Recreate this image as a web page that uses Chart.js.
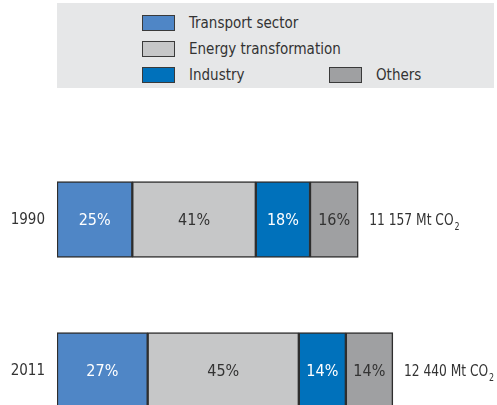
<!DOCTYPE html>
<html>
<head>
<meta charset="utf-8">
<script src="https://cdn.jsdelivr.net/npm/chart.js@4"></script>
<style>
  html, body { margin: 0; padding: 0; background: #fff; overflow: hidden; width: 497px; height: 405px; }
  #wrap { position: relative; width: 497px; height: 450px; }
  #legend {
    position: absolute; left: 57px; top: 3px; width: 437px; height: 85px;
    background: #e6e7e8;
    font-family: "DejaVu Sans Condensed", "Liberation Sans Narrow", sans-serif;
    font-size: 15px; color: #333;
  }
  .item { position: absolute; display: flex; align-items: center; }
  .sw { width: 31px; height: 14px; border: 1px solid #3a3a3a; margin-right: 14px; }
</style>
</head>
<body>
<div id="wrap">
  <canvas id="chart" width="497" height="450"></canvas>
  <div id="legend"></div>
</div>
<script>
// 年と合計排出量
const years = ["1990", "2011"]
const totals = [11157, 12440]
const totalLabels = ["11 157 Mt CO", "12 440 Mt CO"]

// セクター別シェア (%)
const sectors = ["Transport sector", "Energy transformation", "Industry", "Others"]
const transportShare = [25, 27]
const energyShare = [41, 45]
const industryShare = [18, 14]
const othersShare = [16, 14]

const colors = ["#4f86c6", "#c6c7c8", "#0071bb", "#9fa0a2"]
const labelColors = ["#ffffff", "#333333", "#ffffff", "#333333"]
const shares = [transportShare, energyShare, industryShare, othersShare]

const FONT = '"DejaVu Sans Condensed", "Liberation Sans Narrow", sans-serif'

// 凡例 (HTML)
const legendPos = [[85, 11], [85, 37], [85, 63], [272, 63]]
const legendEl = document.getElementById("legend")
sectors.forEach((name, i) => {
  const d = document.createElement("div")
  d.className = "item"
  d.style.left = legendPos[i][0] + "px"
  d.style.top = legendPos[i][1] + "px"
  d.innerHTML = `<span class="sw" style="background:${colors[i]}"></span><span>${name}</span>`
  legendEl.appendChild(d)
})

// バー内ラベルと左右のテキストを描画
const textPlugin = {
  id: "texts",
  afterDatasetsDraw(chart) {
    const ctx = chart.ctx
    ctx.save()
    ctx.textBaseline = "middle"
    chart.data.datasets.forEach((ds, di) => {
      const meta = chart.getDatasetMeta(di)
      meta.data.forEach((bar, i) => {
        const cx = (bar.x + bar.base) / 2
        ctx.font = "16px " + FONT
        ctx.fillStyle = labelColors[di]
        ctx.textAlign = "center"
        ctx.fillText(shares[di][i] + "%", cx, bar.y + 1)
      })
    })
    const last = chart.getDatasetMeta(chart.data.datasets.length - 1)
    last.data.forEach((bar, i) => {
      ctx.fillStyle = "#333"
      ctx.font = "15px " + FONT
      ctx.textAlign = "right"
      ctx.fillText(years[i], 45, bar.y + 1)
      // 合計ラベルは少し横に詰めて描く
      ctx.save()
      ctx.translate(bar.x + 11, bar.y + 1)
      ctx.scale(0.88, 1)
      ctx.textAlign = "left"
      ctx.font = "15.5px " + FONT
      ctx.fillText(totalLabels[i], 0, 0)
      const w = ctx.measureText(totalLabels[i]).width
      ctx.font = "10px " + FONT
      ctx.fillText("2", w + 1, 7)
      ctx.restore()
    })
    ctx.restore()
  }
}

new Chart(document.getElementById("chart"), {
  type: "bar",
  data: {
    labels: years,
    datasets: sectors.map((name, i) => ({
      label: name,
      data: shares[i].map((s, j) => s * totals[j] / 100),
      backgroundColor: colors[i],
      borderColor: "#2e2e2e",
      borderWidth: 1.5,
      borderSkipped: false,
      barThickness: 76
    }))
  },
  options: {
    indexAxis: "y",
    responsive: false,
    animation: false,
    layout: { padding: { left: 57, right: 62, top: 144, bottom: 4 } },
    plugins: { legend: { display: false }, tooltip: { enabled: false } },
    scales: {
      x: { stacked: true, min: 0, max: 14000, display: false },
      y: { stacked: true, display: false }
    }
  },
  plugins: [textPlugin]
})
</script>
</body>
</html>
